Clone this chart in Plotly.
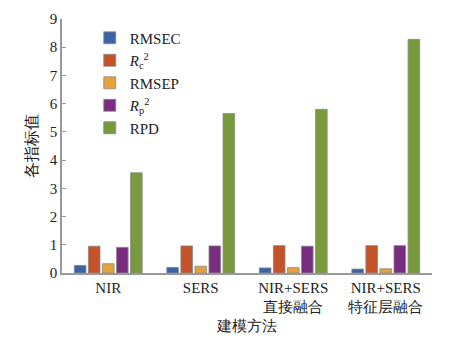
import plotly.graph_objects as go

# Modelling methods and the five evaluation metrics for each
methods = ["NIR", "SERS", "NIR+SERS<br>直接融合", "NIR+SERS<br>特征层融合"]
rmsec = [0.27, 0.20, 0.18, 0.14]
rc2 = [0.95, 0.96, 0.97, 0.97]
rmsep = [0.33, 0.24, 0.19, 0.15]
rp2 = [0.91, 0.96, 0.95, 0.97]
rpd = [3.55, 5.65, 5.80, 8.28]

series_names = ["RMSEC", "<i>R</i><sub>c</sub><sup>2</sup>", "RMSEP",
                "<i>R</i><sub>p</sub><sup>2</sup>", "RPD"]
series_values = [rmsec, rc2, rmsep, rp2, rpd]
colors = ["#3B62A6", "#C4532A", "#E3A23B", "#7A2D7E", "#789A3C"]

serif = "Liberation Serif"

fig = go.Figure()
for name, vals, col in zip(series_names, series_values, colors):
    fig.add_trace(go.Bar(
        x=methods, y=vals, name=name,
        marker=dict(color=col, line=dict(color="#8a8a8a", width=0.8)),
    ))

fig.update_layout(
    width=458, height=346,
    margin=dict(l=62, r=26, t=19, b=73),
    paper_bgcolor="white", plot_bgcolor="white",
    barmode="group", bargap=0.24, bargroupgap=0.17,
    font=dict(family=serif, size=15, color="#222222"),
    showlegend=True,
    legend=dict(x=0.075, y=0.99, xanchor="left", yanchor="top",
                bgcolor="rgba(0,0,0,0)", font=dict(size=15, family=serif),
                tracegroupgap=0, itemwidth=30),
)
fig.update_xaxes(
    showline=True, linecolor="#999999", linewidth=1.5,
    ticks="", showgrid=False, zeroline=False,
    tickfont=dict(size=15, family=serif),
    title=dict(text="建模方法", font=dict(size=15, family=serif), standoff=6),
)
fig.update_yaxes(
    range=[0, 9], dtick=1, showline=True, linecolor="#999999", linewidth=1.5,
    ticks="inside", ticklen=4, tickcolor="#999999",
    showgrid=False, zeroline=False,
    tickfont=dict(size=15, family=serif),
    title=dict(text="各指标值", font=dict(size=16, family=serif), standoff=8),
)

fig.write_html("out.html")
